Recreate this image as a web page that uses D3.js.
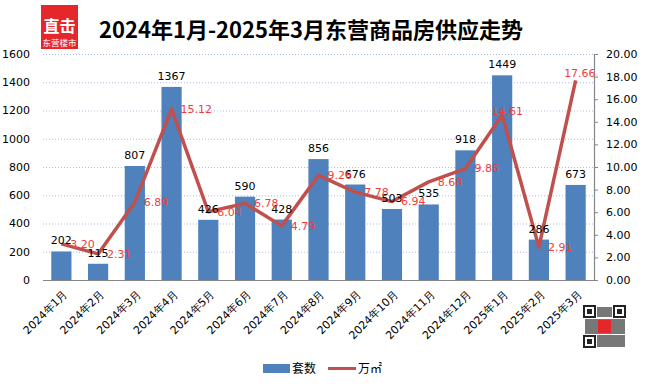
<!DOCTYPE html>
<html><head><meta charset="utf-8">
<script src="https://cdn.jsdelivr.net/npm/d3@7"></script>
<style>body{margin:0;background:#fff}svg{display:block}</style>
</head><body>
<script>
const months = ["2024年1月","2024年2月","2024年3月","2024年4月","2024年5月","2024年6月","2024年7月","2024年8月","2024年9月","2024年10月","2024年11月","2024年12月","2025年1月","2025年2月","2025年3月"];
const units = [202,115,807,1367,426,590,428,856,676,503,535,918,1449,286,673];
const area = [3.20,2.31,6.89,15.12,6.04,6.78,4.79,9.26,7.78,6.94,8.68,9.86,14.61,2.91,17.66];
const leftTicks = [0,200,400,600,800,1000,1200,1400,1600];
const rightTicks = [0,2,4,6,8,10,12,14,16,18,20];
const seriesNames = ["套数","万㎡"];
const title = "2024年1月-2025年3月东营商品房供应走势";

const W=648,H=386, L=43, R=594, T=54, B=280;
const svg=d3.select("body").append("svg").attr("width",W).attr("height",H);
const font="DejaVu Sans, sans-serif";

const x=d3.scaleBand().domain(months).range([L,R]).paddingInner(0.45).paddingOuter(0.225);
const yL=d3.scaleLinear().domain([0,1600]).range([B,T]);
const yR=d3.scaleLinear().domain([0,20]).range([B,T]);
const cx=i=>x(months[i])+x.bandwidth()/2;

// grid
svg.append("g").selectAll("line").data(leftTicks.filter(d=>d>0)).join("line")
  .attr("x1",L).attr("x2",R).attr("y1",d=>yL(d)+0.5).attr("y2",d=>yL(d)+0.5)
  .attr("stroke","#a9bde3").attr("stroke-width",1).attr("stroke-dasharray","1,2");

// left axis labels
svg.append("g").selectAll("text").data(leftTicks).join("text")
  .attr("x",30).attr("y",d=>yL(d)).attr("dy","0.35em").attr("text-anchor","end")
  .attr("font-family",font).attr("font-size",11).attr("fill","#000").text(d=>d);

// bars
svg.append("g").selectAll("rect").data(units).join("rect")
  .attr("x",(d,i)=>x(months[i])).attr("width",x.bandwidth())
  .attr("y",d=>yL(d)).attr("height",d=>B-yL(d)).attr("fill","#4f81bd");

// bottom axis line
svg.append("line").attr("x1",L).attr("x2",R).attr("y1",B+0.5).attr("y2",B+0.5).attr("stroke","#868686");

// right axis
const gR=svg.append("g").attr("transform",`translate(${R},0)`)
  .call(d3.axisRight(yR).tickValues(rightTicks).tickSize(4).tickPadding(8).tickFormat(d3.format(".2f")));
gR.select(".domain").attr("stroke","#868686").attr("stroke-width",1.2);
gR.selectAll(".tick line").attr("stroke","#868686");
gR.selectAll("text").attr("font-family",font).attr("font-size",11).attr("fill","#000");

// x labels
svg.append("g").selectAll("text").data(months).join("text")
  .attr("transform",(d,i)=>`translate(${cx(i)+4},${B+12}) rotate(-45)`)
  .attr("text-anchor","end").attr("dy","0.35em")
  .attr("font-family",font).attr("font-size",11).attr("fill","#000").text(d=>d);

// line
const line=d3.line().x((d,i)=>cx(i)).y(d=>yR(d));
svg.append("path").datum(area).attr("d",line).attr("fill","none")
  .attr("stroke","#c0504d").attr("stroke-width",3.5).attr("stroke-linejoin","round");

// bar labels
svg.append("g").selectAll("text").data(units).join("text")
  .attr("x",(d,i)=>cx(i)).attr("y",d=>yL(d)-7)
  .attr("text-anchor","middle").attr("font-family",font).attr("font-size",11).attr("fill","#000").text(d=>d);

// line labels (default: right of point; a few placed like the reference)
const labelPlace = {12:{dx:5,dy:-4,anchor:"middle"}, 14:{dx:20,dy:-7,anchor:"end"}};
svg.append("g").selectAll("text").data(area).join("text")
  .attr("x",(d,i)=>cx(i)+(labelPlace[i]?labelPlace[i].dx:9))
  .attr("y",(d,i)=>yR(d)+(labelPlace[i]?labelPlace[i].dy:0)).attr("dy","0.35em")
  .attr("text-anchor",(d,i)=>labelPlace[i]?labelPlace[i].anchor:"start")
  .attr("font-family",font).attr("font-size",11).attr("fill","#f33b3b").text(d=>d.toFixed(2));

// title
svg.append("text").attr("x",99).attr("y",38).attr("font-family","Noto Sans CJK SC, sans-serif")
  .attr("font-weight","bold").attr("font-size",22).attr("fill","#000").text(title);

// logo
const lg=svg.append("g");
lg.append("rect").attr("x",41).attr("y",5).attr("width",37).attr("height",44).attr("fill","#e5262b");
lg.append("text").attr("x",59.5).attr("y",32).attr("text-anchor","middle").attr("font-family","Noto Sans CJK SC")
  .attr("font-weight","bold").attr("font-size",16).attr("fill","#fff").text("直击");
lg.append("text").attr("x",59.5).attr("y",46).attr("text-anchor","middle").attr("font-family","Noto Sans CJK SC")
  .attr("font-size",8.5).attr("fill","#fff").text("东营楼市");

// QR-like mark
const q=svg.append("g").attr("transform","translate(583,305)");
q.append("rect").attr("width",43).attr("height",43).attr("fill","#fff");
[[1,1],[31,1],[1,31]].forEach(([a,b])=>{
  q.append("rect").attr("x",a).attr("y",b).attr("width",11).attr("height",11).attr("fill","none").attr("stroke","#222").attr("stroke-width",2);
  q.append("rect").attr("x",a+3).attr("y",b+3).attr("width",5).attr("height",5).attr("fill","#222");
});
q.append("rect").attr("x",14).attr("y",2).attr("width",15).attr("height",10).attr("fill","#777");
q.append("rect").attr("x",2).attr("y",14).attr("width",40).attr("height",15).attr("fill","#777");
q.append("rect").attr("x",14).attr("y",30).attr("width",28).attr("height",12).attr("fill","#777");
q.append("rect").attr("x",15).attr("y",15).attr("width",13).attr("height",13).attr("fill","#e5262b");

// legend
svg.append("rect").attr("x",263).attr("y",364).attr("width",27).attr("height",9).attr("fill","#4f81bd");
svg.append("text").attr("x",292).attr("y",373).attr("font-family","Noto Sans CJK SC").attr("font-size",12).attr("fill","#000").text(seriesNames[0]);
svg.append("line").attr("x1",328).attr("x2",356).attr("y1",368.5).attr("y2",368.5).attr("stroke","#c0504d").attr("stroke-width",3);
svg.append("text").attr("x",358).attr("y",373).attr("font-family","Noto Sans CJK SC").attr("font-size",12).attr("fill","#000").text(seriesNames[1]);
</script>
</body></html>
